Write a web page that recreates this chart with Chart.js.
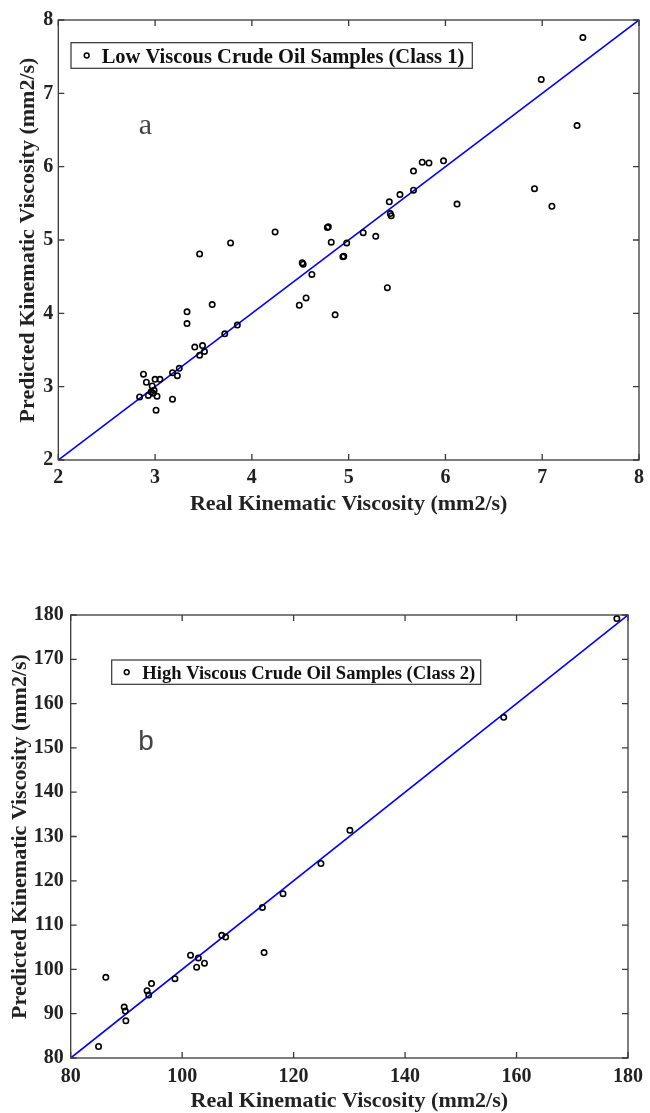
<!DOCTYPE html>
<html lang="en">

<head>
    <meta charset="UTF-8">
    <title>Real vs Predicted Kinematic Viscosity</title>
    <script src="https://cdn.jsdelivr.net/npm/chart.js@4.4.0/dist/chart.umd.min.js"></script>
    <style>
        body { margin: 0; background: #fff; }
        #wrap { position: relative; width: 650px; height: 1113px; }
        #chartLow { position: absolute; left: 0; top: 0; }
        #chartHigh { position: absolute; left: 0; top: 540px; }
    </style>
</head>

<body>
    <div id="wrap">
        <canvas id="chartLow" width="650" height="540"></canvas>
        <canvas id="chartHigh" width="650" height="573"></canvas>
    </div>

    <script>
        'use strict';

        // class 1 : low viscous samples
        const realLow = [4.24, 3.46, 3.78, 4.52, 4.53, 4.62, 4.49, 4.56, 3.33, 3.33, 3.59, 3.72, 3.85, 3.41, 3.49, 3.46, 3.51,
            3.25, 3.18, 3.23, 3.18, 2.88, 2.91, 3.00, 3.05, 2.97, 2.84, 2.93, 2.96, 2.99, 2.98, 3.02, 3.01,
            4.82, 4.98, 4.95, 4.94, 5.15, 5.28, 5.40, 4.86, 7.42, 6.99, 7.36, 5.67, 5.76, 5.83, 5.98, 5.67, 5.53,
            5.42, 5.43, 5.44, 6.12, 6.92, 7.10, 4.78, 4.79];
        const predLow = [5.11, 4.81, 4.96, 4.69, 4.67, 4.53, 4.11, 4.21, 4.02, 3.86, 4.12, 3.72, 3.84, 3.54, 3.56, 3.43, 3.48,
            3.25, 3.19, 3.15, 2.83, 3.17, 3.06, 3.10, 3.10, 3.01, 2.86, 2.88, 2.93, 2.95, 2.91, 2.87, 2.68,
            4.97, 4.96, 4.78, 4.77, 5.10, 5.05, 4.35, 3.98, 7.76, 7.19, 6.56, 5.94, 6.06, 6.05, 6.08, 5.68, 5.62,
            5.52, 5.36, 5.33, 5.49, 5.70, 5.46, 5.17, 5.18];
        const ticksLow = [2, 3, 4, 5, 6, 7, 8];
        const lineLow = [2, 8];

        // class 2 : high viscous samples
        const realHigh = [85.0, 86.3, 89.6, 89.8, 89.9, 93.7, 94.0, 94.5, 98.7, 101.5, 102.6, 102.9, 104.0, 107.1, 107.8,
            114.4, 114.7, 118.1, 124.9, 130.1, 157.7, 178.0];
        const predHigh = [82.6, 98.2, 91.5, 90.6, 88.4, 95.2, 94.2, 96.8, 97.9, 103.2, 100.5, 102.6, 101.4, 107.7, 107.3,
            114.0, 103.8, 117.1, 123.9, 131.4, 156.9, 179.2];
        const ticksHighX = [80, 100, 120, 140, 160, 180];
        const ticksHighY = [80, 90, 100, 110, 120, 130, 140, 150, 160, 170, 180];
        const lineHigh = [80, 180];

        const SERIF = "'Liberation Serif', 'Times New Roman', serif";
        const TXT = '#222';

        // box, inward ticks on all 4 sides, legend box and panel letter (matlab look)
        const framePlugin = {
            id: 'frame',
            afterDatasetsDraw(chart, args, opts) {
                const { ctx, chartArea: a, scales: { x, y } } = chart;
                ctx.save();
                ctx.strokeStyle = '#3a3a3a';
                ctx.lineWidth = 1.3;
                ctx.strokeRect(a.left, a.top, a.right - a.left, a.bottom - a.top);
                ctx.beginPath();
                x.ticks.forEach(t => {
                    const p = x.getPixelForValue(t.value);
                    ctx.moveTo(p, a.bottom); ctx.lineTo(p, a.bottom - 6);
                    ctx.moveTo(p, a.top); ctx.lineTo(p, a.top + 6);
                });
                y.ticks.forEach(t => {
                    const p = y.getPixelForValue(t.value);
                    ctx.moveTo(a.left, p); ctx.lineTo(a.left + 6, p);
                    ctx.moveTo(a.right, p); ctx.lineTo(a.right - 6, p);
                });
                ctx.stroke();

                // legend
                const lg = opts.legend;
                const bx = a.left + lg.dx, by = a.top + lg.dy;
                ctx.fillStyle = '#fff';
                ctx.fillRect(bx, by, lg.w, lg.h);
                ctx.strokeStyle = '#333';
                ctx.lineWidth = 1.2;
                ctx.strokeRect(bx, by, lg.w, lg.h);
                ctx.beginPath();
                ctx.lineWidth = 1.5;
                ctx.strokeStyle = '#000';
                ctx.arc(bx + lg.mx, by + lg.h / 2, 2.4, 0, Math.PI * 2);
                ctx.stroke();
                ctx.fillStyle = '#111';
                ctx.font = 'bold ' + lg.size + 'px ' + SERIF;
                ctx.textAlign = 'left';
                ctx.textBaseline = 'alphabetic';
                ctx.fillText(chart.data.datasets[0].label, bx + lg.tx, by + lg.ty);

                // panel letter
                const lt = opts.letter;
                ctx.fillStyle = '#444';
                ctx.font = lt.font;
                ctx.textAlign = 'center';
                ctx.fillText(lt.text, x.getPixelForValue(lt.x), y.getPixelForValue(lt.y));
                ctx.restore();
            }
        };

        function makeChart(id, cfg) {
            const ctx = document.getElementById(id).getContext('2d');
            const tickFont = { family: SERIF, weight: 'bold', size: 20 };
            const titleFont = { family: SERIF, weight: 'bold', size: 22 };
            return new Chart(ctx, {
                type: 'scatter',
                data: {
                    datasets: [{
                        label: cfg.label,
                        data: cfg.real.map((v, i) => ({ x: v, y: cfg.pred[i] })),
                        pointStyle: 'circle',
                        pointRadius: 2.7,
                        borderWidth: 1.6,
                        borderColor: '#000',
                        backgroundColor: 'rgba(0,0,0,0)',
                        order: 1
                    }, {
                        type: 'line',
                        label: 'fit',
                        data: cfg.line.map(v => ({ x: v, y: v })),
                        borderColor: '#0000ff',
                        borderWidth: 1.6,
                        pointRadius: 0,
                        fill: false,
                        order: 2
                    }]
                },
                options: {
                    responsive: false,
                    animation: false,
                    layout: { padding: cfg.padding },
                    plugins: {
                        legend: { display: false },
                        tooltip: { enabled: false },
                        frame: { legend: cfg.legend, letter: cfg.letter }
                    },
                    scales: {
                        x: {
                            type: 'linear',
                            min: cfg.xTicks[0],
                            max: cfg.xTicks[cfg.xTicks.length - 1],
                            afterBuildTicks: s => { s.ticks = cfg.xTicks.map(v => ({ value: v })); },
                            afterFit: s => { s.height = cfg.xHeight; },
                            grid: { display: false, drawTicks: false },
                            border: { display: false },
                            ticks: { padding: cfg.xPad, color: TXT, font: tickFont, maxRotation: 0 },
                            title: { display: true, text: 'Real Kinematic Viscosity (mm2/s)', color: TXT, font: titleFont, padding: { top: 0, bottom: cfg.xTitlePad } }
                        },
                        y: {
                            type: 'linear',
                            min: cfg.yTicks[0],
                            max: cfg.yTicks[cfg.yTicks.length - 1],
                            afterBuildTicks: s => { s.ticks = cfg.yTicks.map(v => ({ value: v })); },
                            afterFit: s => { s.width = cfg.yWidth; },
                            grid: { display: false, drawTicks: false },
                            border: { display: false },
                            ticks: { padding: cfg.yPad, color: TXT, font: tickFont },
                            title: { display: true, text: 'Predicted Kinematic Viscosity (mm2/s)', color: TXT, font: titleFont, padding: { top: cfg.yTitlePad, bottom: 0 } }
                        }
                    }
                },
                plugins: [framePlugin]
            });
        }

        makeChart('chartLow', {
            label: 'Low Viscous Crude Oil Samples (Class 1)',
            real: realLow, pred: predLow, line: lineLow,
            xTicks: ticksLow, yTicks: ticksLow,
            padding: { left: 0, top: 20, right: 7, bottom: 0 },
            xHeight: 80, yWidth: 58.3,
            xPad: 6, yPad: 5, xTitlePad: 22, yTitlePad: 15,
            legend: { dx: 12.7, dy: 22.7, w: 401.3, h: 25.6, mx: 15.7, tx: 30.7, ty: 20.6, size: 20.5 },
            letter: { text: 'a', x: 2.9, y: 6.45, font: "30px 'Liberation Serif', serif" }
        });

        makeChart('chartHigh', {
            label: 'High Viscous Crude Oil Samples (Class 2)',
            real: realHigh, pred: predHigh, line: lineHigh,
            xTicks: ticksHighX, yTicks: ticksHighY,
            padding: { left: 0, top: 75, right: 12.7, bottom: 0 },
            xHeight: 55, yWidth: 70.7,
            xPad: 7, yPad: 7, xTitlePad: -1.5, yTitlePad: 7,
            legend: { dx: 41, dy: 45, w: 369, h: 24.3, mx: 15, tx: 30.6, ty: 19.3, size: 18.6 },
            letter: { text: 'b', x: 93.5, y: 149.5, font: "28px 'Liberation Sans', sans-serif" }
        });
    </script>

</body>

</html>
